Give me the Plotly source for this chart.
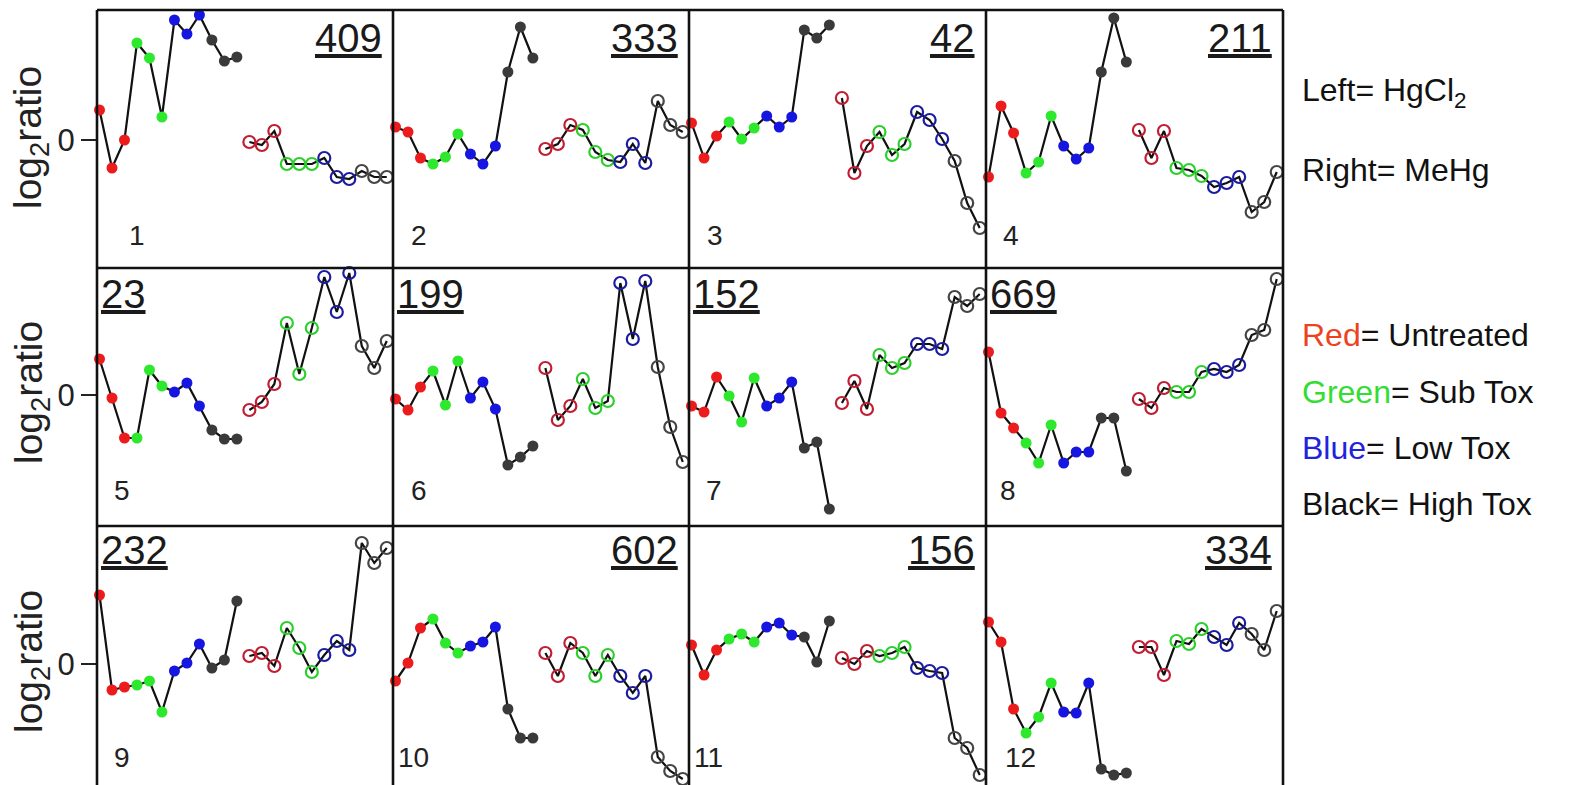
import plotly.graph_objects as go

# ---- data -------------------------------------------------------------
gene_ids = ["409", "333", "42", "211", "23", "199", "152", "669", "232", "602", "156", "334"]
panel_numbers = ["1", "2", "3", "4", "5", "6", "7", "8", "9", "10", "11", "12"]
treatments = ["Untreated"] * 3 + ["Sub Tox"] * 3 + ["Low Tox"] * 3 + ["High Tox"] * 3

# log2 ratio profiles, HgCl2 exposure (filled markers, left half of each panel)
hgcl2 = [
    [0.60, -0.56, 0.00, 1.94, 1.64, 0.46, 2.40, 2.12, 2.50, 2.00, 1.58, 1.66],
    [0.26, 0.16, -0.36, -0.48, -0.34, 0.12, -0.28, -0.48, -0.12, 1.36, 2.26, 1.64],
    [0.34, -0.36, 0.08, 0.36, 0.02, 0.24, 0.48, 0.26, 0.46, 2.20, 2.04, 2.30],
    [-0.74, 0.68, 0.14, -0.66, -0.44, 0.48, -0.12, -0.38, -0.16, 1.36, 2.44, 1.56],
    [0.72, -0.06, -0.86, -0.86, 0.50, 0.18, 0.06, 0.24, -0.22, -0.70, -0.88, -0.88],
    [-0.08, -0.30, 0.16, 0.48, -0.20, 0.68, -0.06, 0.26, -0.28, -1.40, -1.24, -1.02],
    [-0.22, -0.34, 0.36, -0.02, -0.54, 0.34, -0.22, -0.06, 0.26, -1.06, -0.94, -2.28],
    [0.86, -0.36, -0.66, -0.96, -1.36, -0.60, -1.36, -1.14, -1.14, -0.46, -0.46, -1.52],
    [1.38, -0.52, -0.46, -0.42, -0.34, -0.96, -0.14, 0.02, 0.40, -0.08, 0.08, 1.26],
    [-0.34, 0.02, 0.72, 0.90, 0.42, 0.22, 0.36, 0.44, 0.74, -0.90, -1.48, -1.48],
    [0.38, -0.22, 0.28, 0.50, 0.60, 0.44, 0.74, 0.82, 0.58, 0.54, 0.04, 0.86],
    [0.84, 0.44, -0.90, -1.38, -1.06, -0.38, -0.96, -0.98, -0.38, -2.10, -2.22, -2.18],
]

# log2 ratio profiles, MeHg exposure (open markers, right half of each panel)
mehg = [
    [-0.04, -0.10, 0.18, -0.48, -0.48, -0.48, -0.36, -0.74, -0.78, -0.62, -0.74, -0.74],
    [-0.18, -0.08, 0.30, 0.20, -0.24, -0.40, -0.44, -0.08, -0.46, 0.78, 0.30, 0.16],
    [0.84, -0.66, -0.12, 0.16, -0.30, -0.08, 0.56, 0.40, 0.02, -0.42, -1.26, -1.76],
    [0.20, -0.36, 0.18, -0.56, -0.60, -0.72, -0.94, -0.86, -0.74, -1.44, -1.24, -0.64],
    [-0.30, -0.14, 0.22, 1.44, 0.42, 1.34, 2.36, 1.66, 2.44, 0.98, 0.54, 1.08],
    [0.54, -0.50, -0.22, 0.32, -0.26, -0.12, 2.24, 1.12, 2.28, 0.56, -0.64, -1.34],
    [-0.16, 0.28, -0.28, 0.80, 0.54, 0.64, 1.02, 1.02, 0.92, 1.96, 1.78, 2.02],
    [-0.08, -0.26, 0.14, 0.06, 0.06, 0.46, 0.52, 0.46, 0.60, 1.20, 1.30, 2.32],
    [0.16, 0.22, -0.04, 0.72, 0.32, -0.16, 0.18, 0.46, 0.28, 2.42, 2.02, 2.32],
    [0.22, -0.24, 0.42, 0.22, -0.24, 0.18, -0.24, -0.58, -0.24, -1.86, -2.14, -2.30],
    [0.12, 0.00, 0.26, 0.16, 0.22, 0.34, -0.08, -0.14, -0.18, -1.48, -1.68, -2.22],
    [0.34, 0.34, -0.22, 0.46, 0.40, 0.70, 0.54, 0.38, 0.82, 0.60, 0.28, 1.06],
]

# ---- styling ----------------------------------------------------------
FONT = "Liberation Sans, Arial, sans-serif"
FILLED = {"Untreated": "#ec1c1c", "Sub Tox": "#2ee82e", "Low Tox": "#1616e0", "High Tox": "#3a3a3a"}
OPEN = {"Untreated": "#c01e32", "Sub Tox": "#2ccf2c", "Low Tox": "#1c1ca0", "High Tox": "#454545"}

W, H = 1570, 785
col_edges = [97, 393, 689, 986, 1283]
row_edges = [10, 268, 526, 785]
zero_px = [140, 395, 664]
PX_PER_UNIT = 50.0


def px_x(p):
    return p / W


def px_y(p):
    return 1 - p / H


fig = go.Figure()

x_left = list(range(12))
x_right = list(range(12, 24))

for k in range(12):
    r, c = divmod(k, 4)
    suffix = "" if k == 0 else str(k + 1)
    xa, ya = "x" + suffix, "y" + suffix

    fig.add_trace(go.Scatter(
        x=x_left, y=hgcl2[k], xaxis=xa, yaxis=ya, mode="lines+markers",
        line=dict(color="#111111", width=2.2),
        marker=dict(symbol="circle", size=11, color=[FILLED[t] for t in treatments],
                    line=dict(width=0)),
        cliponaxis=False, showlegend=False, name="HgCl2",
    ))
    fig.add_trace(go.Scatter(
        x=x_right, y=mehg[k], xaxis=xa, yaxis=ya, mode="lines+markers",
        line=dict(color="#111111", width=2.2),
        marker=dict(symbol="circle-open", size=12, color=[OPEN[t] for t in treatments],
                    line=dict(width=2.2)),
        cliponaxis=False, showlegend=False, name="MeHg",
    ))

    top, bottom = row_edges[r], row_edges[r + 1]
    yrange = [-(bottom - zero_px[r]) / PX_PER_UNIT, (zero_px[r] - top) / PX_PER_UNIT]
    first_col = c == 0

    fig.layout["xaxis" + suffix] = dict(
        domain=[px_x(col_edges[c]), px_x(col_edges[c + 1])],
        range=[-0.2, 23.5], showgrid=False, zeroline=False, showline=False,
        showticklabels=False, ticks="", anchor=ya, fixedrange=True,
    )
    fig.layout["yaxis" + suffix] = dict(
        domain=[px_y(bottom), px_y(top)], range=yrange,
        showgrid=False, zeroline=False, showline=False, anchor=xa,
        tickvals=[0], ticktext=["0"], showticklabels=first_col,
        ticks="outside" if first_col else "", ticklen=15, tickwidth=2,
        tickcolor="#222222", tickfont=dict(family=FONT, size=31, color="#222222"),
        fixedrange=True,
    )

    # gene label, underlined, in a top corner
    right_aligned = k < 4 or k >= 9
    label_y = top + (28 if r == 0 else 26 if r == 1 else 24)
    fig.add_annotation(
        text="<u>%s</u>" % gene_ids[k], xref="paper", yref="paper",
        x=px_x(col_edges[c + 1] - 9) if right_aligned else px_x(col_edges[c] + 2),
        y=px_y(label_y), xanchor="right" if right_aligned else "left", yanchor="middle",
        showarrow=False, font=dict(family=FONT, size=40, color="#1a1a1a"),
    )

    # panel index in the lower left corner
    num_x = [137, 419, 715, 1011, 122, 419, 714, 1008, 122, 413, 708, 1020][k]
    num_y = [236, 236, 236, 236, 490, 490, 490, 490, 757, 757, 757, 757][k]
    fig.add_annotation(
        text=panel_numbers[k], xref="paper", yref="paper",
        x=px_x(num_x), y=px_y(num_y), xanchor="center", yanchor="middle",
        showarrow=False, font=dict(family=FONT, size=28, color="#222222"),
    )

# y-axis titles for each row
for r in range(3):
    fig.add_annotation(
        text="log<sub>2</sub>ratio", xref="paper", yref="paper",
        x=px_x(31), y=px_y(zero_px[r] - 2), xanchor="center", yanchor="middle",
        textangle=-90, showarrow=False, font=dict(family=FONT, size=39, color="#222222"),
    )

# panel frame (no line along the bottom edge)
frame = dict(color="#111111", width=2.6)
for xe in col_edges:
    fig.add_shape(type="line", xref="paper", yref="paper",
                  x0=px_x(xe), x1=px_x(xe), y0=0, y1=px_y(row_edges[0]), line=frame)
for ye in row_edges[:3]:
    fig.add_shape(type="line", xref="paper", yref="paper",
                  x0=px_x(col_edges[0]), x1=px_x(col_edges[-1]), y0=px_y(ye), y1=px_y(ye),
                  line=frame)

# key text on the right
key_lines = [
    ("Left= HgCl<sub>2</sub>", 93),
    ("Right= MeHg", 170),
    ("<span style='color:#ec421e'>Red</span>= Untreated", 335),
    ("<span style='color:#33dd33'>Green</span>= Sub Tox", 392),
    ("<span style='color:#2222dd'>Blue</span>= Low Tox", 448),
    ("Black= High Tox", 504),
]
for text, yp in key_lines:
    fig.add_annotation(
        text=text, xref="paper", yref="paper", x=px_x(1300), y=px_y(yp),
        xanchor="left", yanchor="middle", showarrow=False,
        font=dict(family=FONT, size=32, color="#111111"),
    )

fig.update_layout(
    width=W, height=H, margin=dict(l=0, r=0, t=0, b=0),
    paper_bgcolor="white", plot_bgcolor="white", showlegend=False,
)

fig.write_html("out.html")
